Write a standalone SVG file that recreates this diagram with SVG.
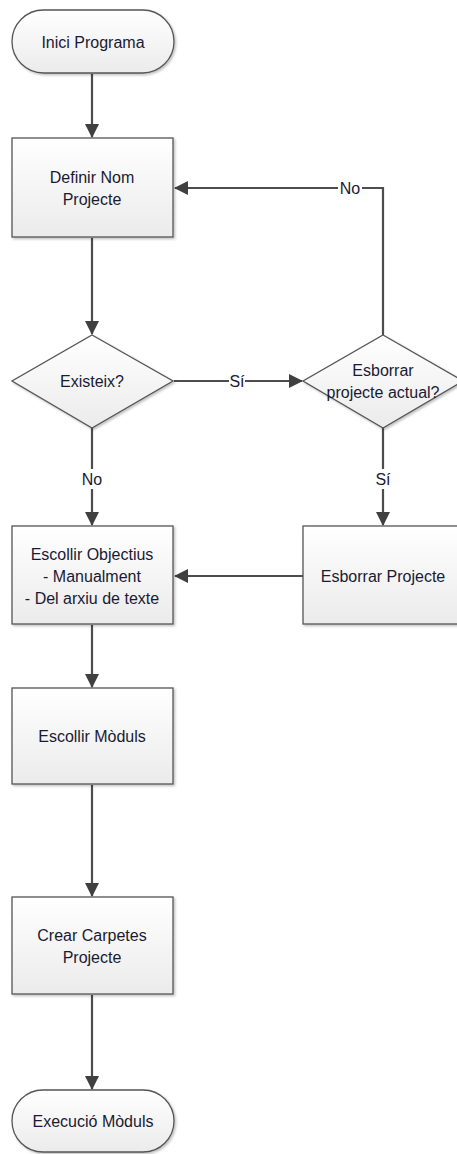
<svg xmlns="http://www.w3.org/2000/svg" width="457" height="1154" viewBox="0 0 457 1154">
<style>
.box{fill:url(#g);stroke:#555;stroke-width:1.3;filter:url(#sh)}
.t{font-family:"Liberation Sans",Arial,sans-serif;font-size:16px;fill:#1a1a33;text-anchor:middle;dominant-baseline:central}
.c{fill:none;stroke:#4d4d4d;stroke-width:2.2}
.lbl{font-family:"Liberation Sans",Arial,sans-serif;font-size:16px;fill:#1a1a33;text-anchor:middle;dominant-baseline:central}
</style>
<defs>
<linearGradient id="g" x1="0" y1="0" x2="0" y2="1"><stop offset="0" stop-color="#ffffff"/><stop offset="1" stop-color="#ebebeb"/></linearGradient>
<filter id="sh" x="-10%" y="-10%" width="130%" height="130%"><feDropShadow dx="1.5" dy="1.5" stdDeviation="1.2" flood-color="#000" flood-opacity="0.25"/></filter>
<marker id="ah" markerWidth="14" markerHeight="14" refX="13" refY="7" orient="auto" markerUnits="userSpaceOnUse" viewBox="0 0 14 14"><path d="M0,0 L14,7 L0,14 Z" fill="#404040"/></marker>
</defs>
<rect width="457" height="1154" fill="#fff"/>
<g id="connectors">
<line class="c" x1="92" y1="74" x2="92" y2="137" marker-end="url(#ah)"/>
<line class="c" x1="92" y1="238" x2="92" y2="334" marker-end="url(#ah)"/>
<line class="c" x1="174" y1="381" x2="302" y2="381" marker-end="url(#ah)"/>
<line class="c" x1="92" y1="428" x2="92" y2="525" marker-end="url(#ah)"/>
<line class="c" x1="383" y1="428" x2="383" y2="525" marker-end="url(#ah)"/>
<line class="c" x1="303" y1="576" x2="175" y2="576" marker-end="url(#ah)"/>
<polyline class="c" points="383,335 383,188 175,188" marker-end="url(#ah)"/>
<line class="c" x1="92" y1="625" x2="92" y2="687" marker-end="url(#ah)"/>
<line class="c" x1="92" y1="785" x2="92" y2="896" marker-end="url(#ah)"/>
<line class="c" x1="92" y1="995" x2="92" y2="1089" marker-end="url(#ah)"/>
<rect x="229" y="372" width="16" height="18" fill="#fff"/>
<text class="lbl" x="237" y="381">Sí</text>
<rect x="338" y="180" width="24" height="16" fill="#fff"/>
<text class="lbl" x="350" y="188">No</text>
<rect x="79" y="469" width="26" height="20" fill="#fff"/>
<text class="lbl" x="92" y="479">No</text>
<rect x="374" y="469" width="18" height="20" fill="#fff"/>
<text class="lbl" x="383" y="479">Sí</text>
</g>
<g id="start">
<rect class="box" x="12" y="10" width="162" height="63" rx="31.5" ry="31.5"/>
<text class="t" x="93" y="42">Inici Programa</text>
</g>
<g id="definir">
<rect class="box" x="12" y="138" width="161" height="99"/>
<text class="t" x="92" y="177">Definir Nom</text>
<text class="t" x="92" y="199">Projecte</text>
</g>
<g id="existeix">
<polygon class="box" points="92,335 173,381 92,428 12,381"/>
<text class="t" x="92" y="381">Existeix?</text>
</g>
<g id="esborrar-q">
<polygon class="box" points="383,335 463,381 383,428 303,381"/>
<text class="t" x="383" y="370">Esborrar</text>
<text class="t" x="383" y="392">projecte actual?</text>
</g>
<g id="objectius">
<rect class="box" x="12" y="526" width="161" height="98"/>
<text class="t" x="92" y="554">Escollir Objectius</text>
<text class="t" x="92" y="576">- Manualment</text>
<text class="t" x="92" y="598">- Del arxiu de texte</text>
</g>
<g id="esborrar">
<rect class="box" x="303" y="526" width="162" height="98"/>
<text class="t" x="383" y="576">Esborrar Projecte</text>
</g>
<g id="moduls">
<rect class="box" x="12" y="688" width="161" height="96"/>
<text class="t" x="92" y="736">Escollir Mòduls</text>
</g>
<g id="carpetes">
<rect class="box" x="12" y="897" width="161" height="97"/>
<text class="t" x="92" y="935">Crear Carpetes</text>
<text class="t" x="92" y="957">Projecte</text>
</g>
<g id="execucio">
<rect class="box" x="12" y="1090" width="162" height="62" rx="31" ry="31"/>
<text class="t" x="93" y="1121">Execució Mòduls</text>
</g>
</svg>
